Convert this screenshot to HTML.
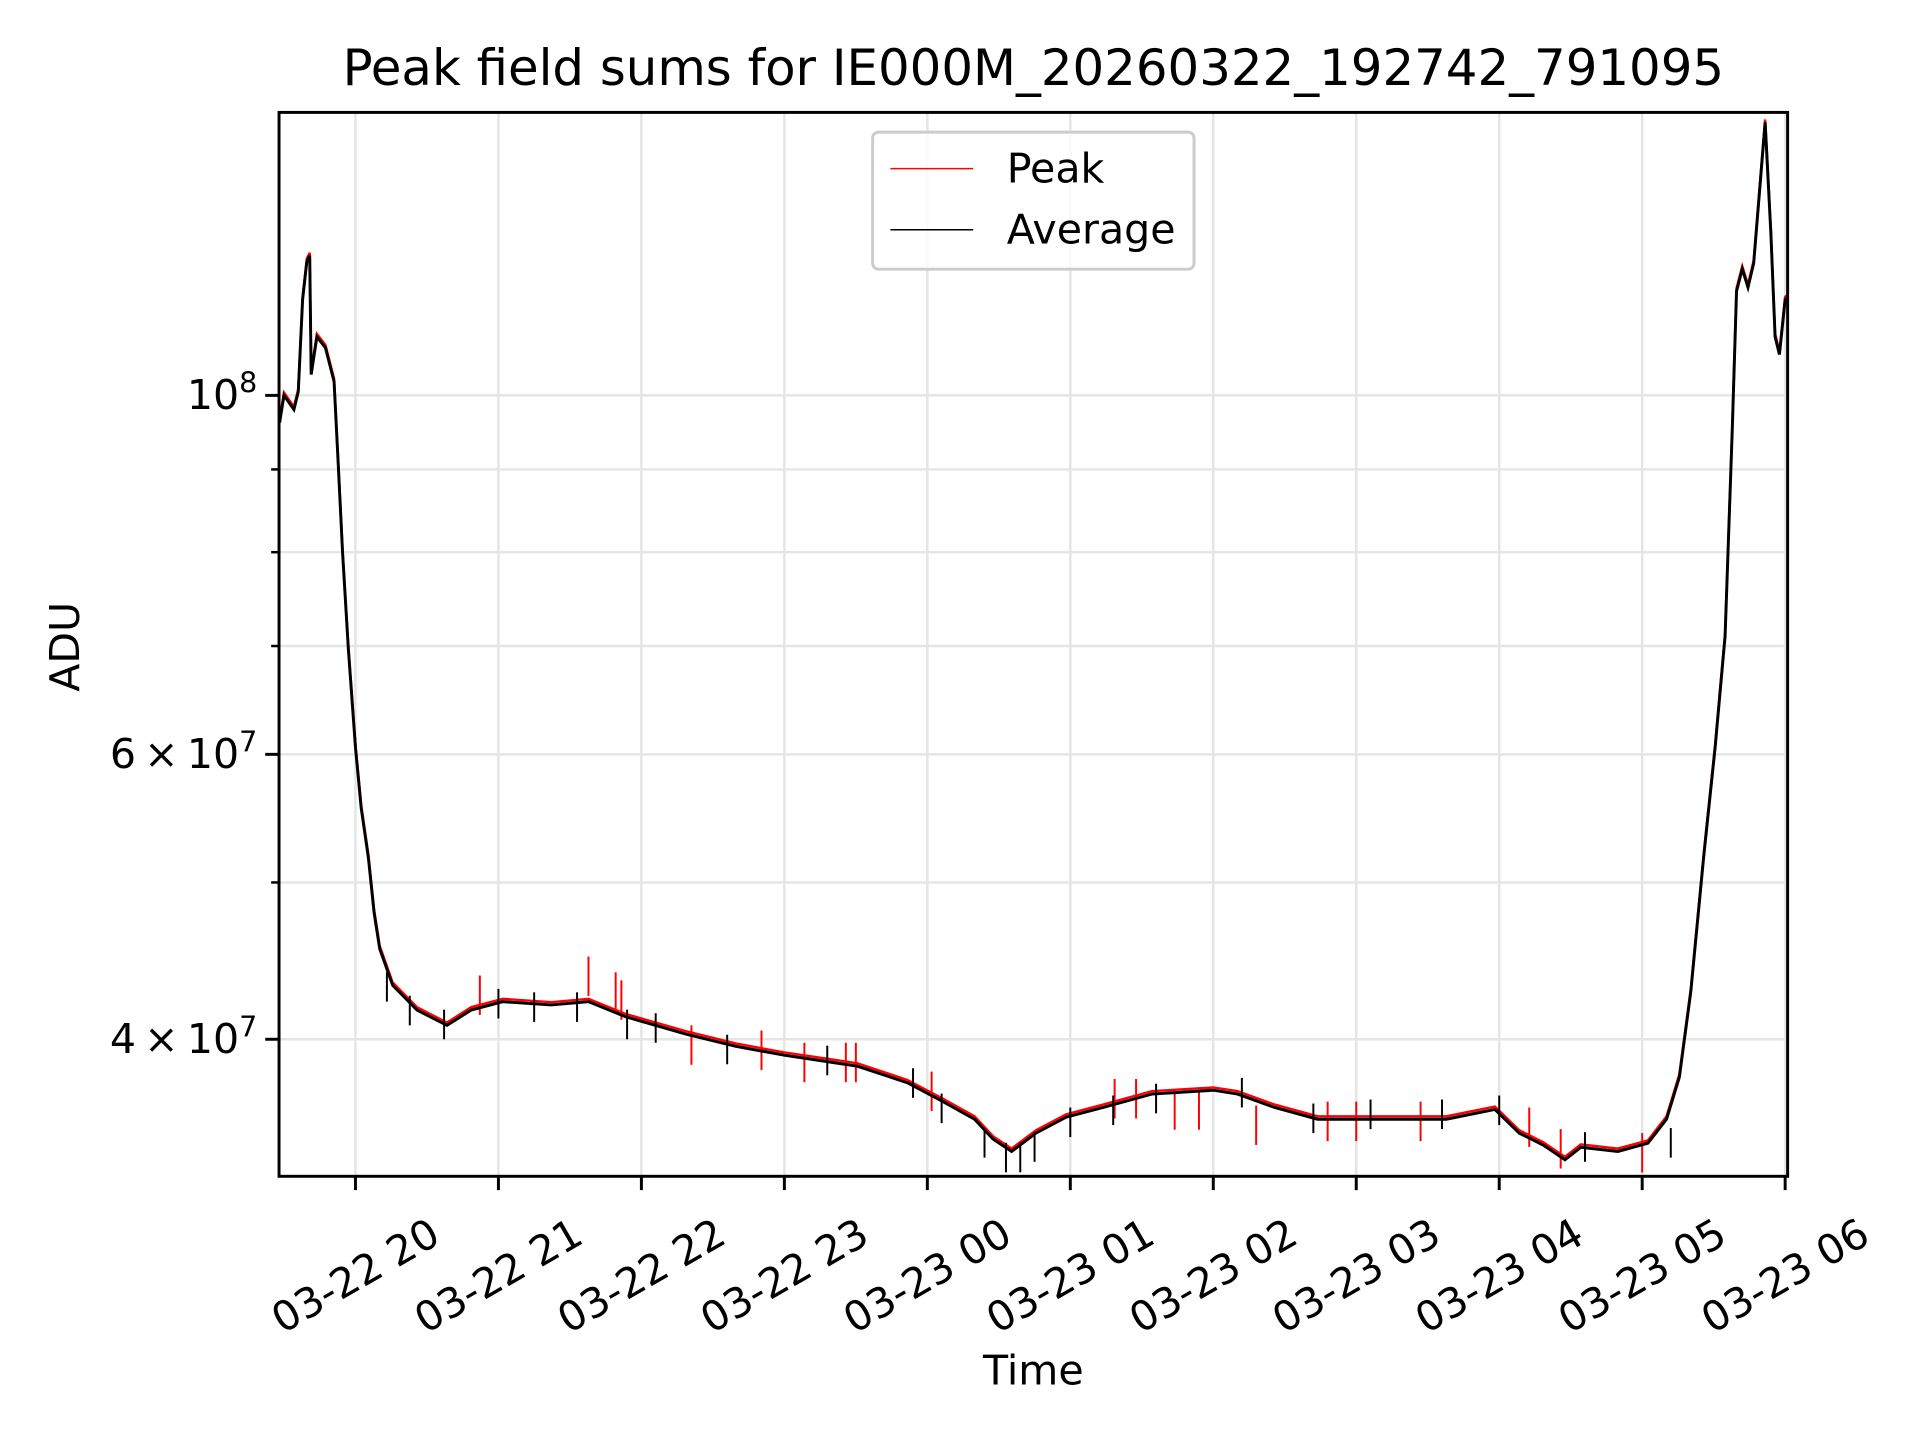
<!DOCTYPE html>
<html><head><meta charset="utf-8"><style>
html,body{margin:0;padding:0;background:#fff;}
svg{display:block;font-family:"DejaVu Sans","Liberation Sans",sans-serif;}
</style></head><body>
<svg id="chart" width="1920" height="1440" viewBox="0 0 1920 1440" xmlns="http://www.w3.org/2000/svg">
<rect width="1920" height="1440" fill="#fff"/>
<g transform="scale(0.986)">
<text x="1048" y="86" font-size="50.5" text-anchor="middle">Peak field sums for IE000M_20260322_192742_791095</text>
<g id="grid"></g>
<g id="series"></g>
<rect x="283" y="114" width="1530" height="1079" fill="none" stroke="#000" stroke-width="3"/>
<g id="axes"></g>
<text transform="translate(80,656) rotate(-90)" font-size="41.7" text-anchor="middle">ADU</text>
<text x="1048" y="1404" font-size="41.7" text-anchor="middle">Time</text>
<g>
<rect x="885" y="134" width="326" height="139" rx="6" fill="#fff" fill-opacity="0.8" stroke="#ccc" stroke-width="3"/>
<line x1="903" y1="171" x2="987" y2="171" stroke="#f00" stroke-width="1.5"/>
<text x="1021" y="185" font-size="41.7">Peak</text>
<line x1="903" y1="233" x2="987" y2="233" stroke="#000" stroke-width="1.5"/>
<text x="1021" y="247" font-size="41.7">Average</text>
</g>
</g>
</svg>
<script>
// hours relative to 03-22 20:00
const avgHours = [-0.53,-0.5,-0.43,-0.4,-0.37,-0.34,-0.32,-0.31,-0.27,-0.21,-0.15,-0.12,-0.09,-0.05,0,0.04,0.09,0.13,0.17,0.26,0.43,0.64,0.81,1.03,1.37,1.63,1.89,2.31,2.66,3.0,3.34,3.51,3.86,4.11,4.33,4.46,4.59,4.76,4.97,5.23,5.57,6.0,6.17,6.43,6.73,7.03,7.37,7.63,7.97,8.14,8.31,8.46,8.57,8.83,9.04,9.17,9.26,9.34,9.43,9.51,9.58,9.63,9.66,9.7,9.74,9.78,9.86,9.9,9.93,9.96,10.0,10.03];
const avgValues = [9.62,10.0,9.8,10.05,11.46,12.1,12.2,10.3,10.87,10.7,10.2,9.05,8.0,6.97,6.06,5.56,5.18,4.79,4.55,4.32,4.17,4.08,4.17,4.22,4.2,4.22,4.13,4.03,3.96,3.91,3.87,3.85,3.76,3.66,3.57,3.47,3.41,3.5,3.58,3.63,3.70,3.72,3.70,3.63,3.57,3.57,3.57,3.57,3.62,3.50,3.44,3.37,3.43,3.41,3.45,3.57,3.79,4.28,5.18,6.06,7.1,9.54,11.6,11.97,11.66,12.07,14.75,12.6,10.87,10.6,11.46,11.5];
// peak spikes (hour, value in 1e7)
const spikeHours = [0.87,1.63,1.82,1.86,2.35,2.84,3.14,3.43,3.5,4.03,5.31,5.46,5.73,5.9,6.3,6.8,7.0,7.45,8.21,8.43,9.0];
const spikeValues = [4.38,4.5,4.4,4.35,4.08,4.05,3.98,3.98,3.98,3.82,3.78,3.78,3.72,3.72,3.64,3.66,3.66,3.66,3.63,3.52,3.5];
// dips of average (hour, value)
const dipHours = [0.22,0.38,0.62,1.0,1.25,1.55,1.9,2.1,2.6,3.3,3.9,4.1,4.4,4.55,4.65,4.75,5.0,5.3,5.6,6.2,6.7,7.1,7.6,8.0,8.6,9.2];
const dipValues = [4.22,4.08,4.0,4.12,4.1,4.1,4.0,3.98,3.86,3.8,3.68,3.55,3.38,3.31,3.31,3.36,3.48,3.54,3.6,3.63,3.5,3.52,3.52,3.54,3.36,3.38];
const yMajorVals = [4,6,10];
const yMajorLabels = [["4","7",true],["6","7",true],["10","8",false]];
const yMinorVals = [5,7,8,9];
const xTickHours = [0,1,2,3,4,5,6,7,8,9,10];
const xTickLabels = ["03-22 20","03-22 21","03-22 22","03-22 23","03-23 00","03-23 01","03-23 02","03-23 03","03-23 04","03-23 05","03-23 06"];

const NS="http://www.w3.org/2000/svg";
const L=283,R=1813,T=114,B=1193;
const x=h=>360.5+h*145;
const y=v=>401-Math.log10(v/10)*1641;
function mk(tag,attrs,parent){const e=document.createElementNS(NS,tag);for(const k in attrs)e.setAttribute(k,attrs[k]);parent.appendChild(e);return e;}
const grid=document.getElementById('grid'),axes=document.getElementById('axes'),ser=document.getElementById('series');

xTickHours.forEach((h,i)=>{
  const g=mk('line',{x1:x(h),x2:x(h),y1:T,y2:B,stroke:'#e5e5e5','stroke-width':2.5},grid);
  
  
  const t=mk('line',{x1:x(h),x2:x(h),y1:B,y2:B+14,stroke:'#000','stroke-width':3},axes);
  
  
  const lb=mk('text',{transform:`translate(${x(h)},1294) rotate(-30)`,'font-size':41.7,'text-anchor':'middle','dominant-baseline':'central'},axes);
  lb.textContent=xTickLabels[i];
  
  
});
yMajorVals.concat(yMinorVals).forEach((v,i)=>{
  const major=i<yMajorVals.length;
  const g=mk('line',{x1:L,x2:R,y1:y(v),y2:y(v),stroke:'#e5e5e5','stroke-width':2.5},grid);
  
  
  const t=mk('line',{x1:L-(major?14:8),x2:L,y1:y(v),y2:y(v),stroke:'#000','stroke-width':major?3:2.5},axes);
  
  
  if(major){
    const lab=yMajorLabels[i];
    const tx=mk('text',{x:L-22,y:y(v)+14,'font-size':41.7,'text-anchor':'end'},axes);
    
    
    tx.innerHTML=(lab[2]?lab[0]+'\u2009×\u200910':'10')+`<tspan dy="-17" font-size="29">${lab[1]}</tspan>`;
  }
});

const clip=mk('clipPath',{id:'pc'},ser);mk('rect',{x:L,y:T,width:R-L,height:B-T},clip);
const pts=avgHours.map((h,i)=>[x(h),y(avgValues[i])]);
const peakD='M'+avgHours.map((h,i)=>x(h).toFixed(1)+','+y(avgValues[i]*1.004).toFixed(1)).join('L');
const pk=mk('path',{d:peakD,fill:'none',stroke:'#f00','stroke-width':2.5,'clip-path':'url(#pc)'},ser);


spikeHours.forEach((h,i)=>{
  const s=mk('line',{x1:x(h),x2:x(h),y1:y(spikeValues[i]),y2:y(spikeValues[i])+40,stroke:'#f00','stroke-width':2},ser);
  
  
});
const avgD='M'+pts.map(p=>p[0].toFixed(1)+','+p[1].toFixed(1)).join('L');
const av=mk('path',{d:avgD,fill:'none',stroke:'#000','stroke-width':3,'clip-path':'url(#pc)'},ser);


dipHours.forEach((h,i)=>{
  const s=mk('line',{x1:x(h),x2:x(h),y1:y(dipValues[i]),y2:y(dipValues[i])-30,stroke:'#000','stroke-width':2},ser);
  
  
});
</script>
</body></html>
